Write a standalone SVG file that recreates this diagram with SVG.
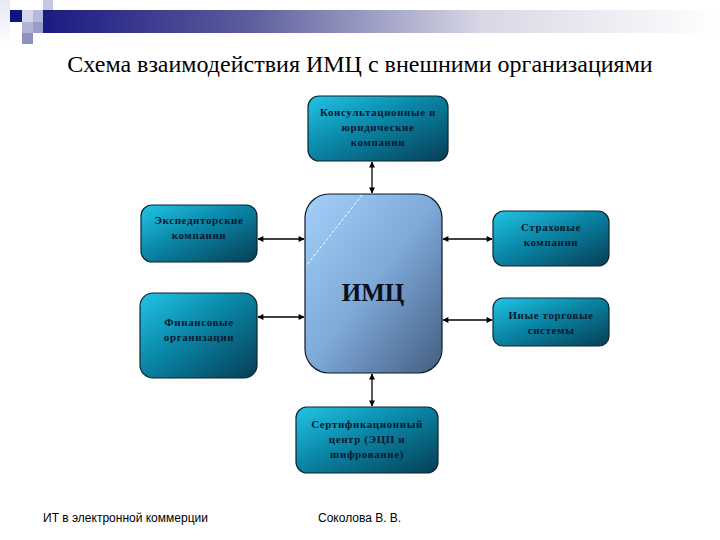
<svg xmlns="http://www.w3.org/2000/svg" width="720" height="540" viewBox="0 0 720 540">
<style>
.box{fill:url(#teal);stroke:#0b2533;stroke-width:1.2}
.lbl{font-family:"Liberation Serif","DejaVu Serif",serif;font-weight:bold;font-size:11px;fill:#0a1830;text-anchor:middle;letter-spacing:0.6px}
.con{stroke:#000;stroke-width:1.3;fill:none;marker-start:url(#ah);marker-end:url(#ah)}
.foot{font-family:"Liberation Sans",Arial,sans-serif;font-size:12px;fill:#000}
</style>
<defs>
<linearGradient id="teal" x1="0" y1="0" x2="1" y2="1">
<stop offset="0" stop-color="#22c4e6"/>
<stop offset="0.45" stop-color="#0a86a6"/>
<stop offset="1" stop-color="#063e54"/>
</linearGradient>
<linearGradient id="blue" x1="0" y1="0" x2="1" y2="1">
<stop offset="0" stop-color="#a4d0fa"/>
<stop offset="0.5" stop-color="#7ea9d8"/>
<stop offset="1" stop-color="#435d80"/>
</linearGradient>
<linearGradient id="bar" x1="0" y1="0" x2="1" y2="0">
<stop offset="0" stop-color="#1a1a82"/>
<stop offset="0.3" stop-color="#5a5c9c"/>
<stop offset="0.65" stop-color="#d8d8e6"/>
<stop offset="1" stop-color="#ffffff"/>
</linearGradient>
<linearGradient id="col" x1="0" y1="0" x2="0" y2="1">
<stop offset="0" stop-color="#e6e8f4"/>
<stop offset="1" stop-color="#ffffff"/>
</linearGradient>
<marker id="ah" viewBox="0 0 10 10" refX="9" refY="5" markerWidth="7" markerHeight="6" orient="auto-start-reverse" markerUnits="userSpaceOnUse">
<path d="M0,0 L10,5 L0,10 z" fill="#000"/>
</marker>
</defs>
<rect width="720" height="540" fill="#fff"/>
<g id="header">
<rect x="0" y="0" width="10" height="44" fill="url(#col)"/>
<rect x="43" y="10" width="677" height="23" fill="url(#bar)"/>
<rect x="43" y="0" width="10" height="10" fill="#c4c6e2"/>
<rect x="22" y="10" width="21" height="12" fill="#d4d6ec"/>
<rect x="33" y="10" width="10" height="12" fill="#b6b8dc"/>
<rect x="10" y="10" width="12" height="12" fill="#0f1480"/>
<rect x="22" y="22" width="21" height="11" fill="#b0b2d8"/>
<rect x="33" y="22" width="10" height="11" fill="#9a9ccc"/>
<rect x="22" y="33" width="11" height="11" fill="#8e90c4"/>
</g>
<text x="360" y="72" text-anchor="middle" font-family="'Liberation Serif','Times New Roman',serif" font-size="24px" fill="#000">Схема взаимодействия ИМЦ с внешними организациями</text>
<g id="connectors">
<line class="con" x1="372" y1="162" x2="372" y2="193"/>
<line class="con" x1="372" y1="374" x2="372" y2="406"/>
<line class="con" x1="258" y1="239" x2="304" y2="239"/>
<line class="con" x1="258" y1="317" x2="304" y2="317"/>
<line class="con" x1="443" y1="239" x2="492" y2="239"/>
<line class="con" x1="443" y1="320" x2="492" y2="320"/>
</g>
<g id="imc">
<rect x="305" y="194" width="137" height="179" rx="24" fill="url(#blue)" stroke="#0b1a2a" stroke-width="1.2"/>
<line x1="362" y1="195" x2="306" y2="266" stroke="#fff" stroke-width="1" stroke-dasharray="3,2"/>
<text x="373" y="301" text-anchor="middle" font-family="'Liberation Serif','Times New Roman',serif" font-weight="bold" font-size="25px" fill="#0a0f1a">ИМЦ</text>
</g>
<g id="consult">
<rect class="box" x="308" y="96" width="140" height="65" rx="11"/>
<text class="lbl" x="378" y="116">Консультационные и</text>
<text class="lbl" x="378" y="131">юридические</text>
<text class="lbl" x="378" y="146">компании</text>
</g>
<g id="exped">
<rect class="box" x="141" y="205" width="116" height="57" rx="11"/>
<text class="lbl" x="199" y="224">Экспедиторские</text>
<text class="lbl" x="199" y="239">компании</text>
</g>
<g id="fin">
<rect class="box" x="140" y="293" width="117" height="85" rx="13"/>
<text class="lbl" x="199" y="326">Финансовые</text>
<text class="lbl" x="199" y="341">организации</text>
</g>
<g id="insur">
<rect class="box" x="493" y="211" width="116" height="55" rx="11"/>
<text class="lbl" x="551" y="231">Страховые</text>
<text class="lbl" x="551" y="246">компании</text>
</g>
<g id="other">
<rect class="box" x="493" y="298" width="116" height="48" rx="10"/>
<text class="lbl" x="551" y="319">Иные торговые</text>
<text class="lbl" x="551" y="334">системы</text>
</g>
<g id="cert">
<rect class="box" x="296" y="407" width="142" height="66" rx="11"/>
<text class="lbl" x="367" y="428">Сертификационный</text>
<text class="lbl" x="367" y="443">центр (ЭЦП и</text>
<text class="lbl" x="367" y="458">шифрование)</text>
</g>
<g id="footer">
<text class="foot" x="43" y="522">ИТ в электронной коммерции</text>
<text class="foot" x="318" y="522">Соколова В. В.</text>
</g>
</svg>
